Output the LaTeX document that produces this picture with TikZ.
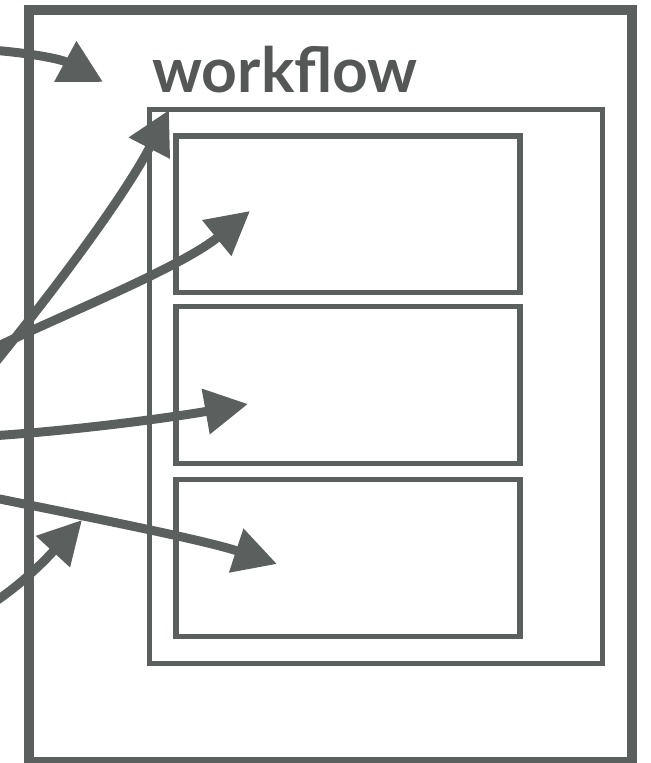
\documentclass[tikz,border=0pt]{standalone}
\usepackage{fontspec}
\setmainfont{Lato}
\usetikzlibrary{arrows.meta,positioning,calc}

\definecolor{ink}{RGB}{91,95,93}
\definecolor{inktext}{RGB}{85,86,86}

\begin{document}
\begin{tikzpicture}[
  x=0.02cm, y=-0.02cm,
  frame/.style={draw=ink, line width=0.2cm, minimum width=12.06cm, minimum height=15.04cm, inner sep=0pt},
  flowbox/.style={draw=ink, line width=0.1cm, minimum width=9.06cm, minimum height=11.09cm, inner sep=0pt},
  stepbox/.style={draw=ink, line width=0.11cm, minimum width=6.88cm, minimum height=3.14cm, inner sep=0pt},
  title/.style={text=inktext, font=\fontsize{35.5}{35.5}\selectfont\bfseries, inner sep=0pt, anchor=base west},
  arr/.style={draw=ink, line width=0.18cm, -{Triangle[length=0.86cm, width=0.88cm]}}
]
\useasboundingbox (0,0) rectangle (651,763);

\node[frame] (outer) at (330.5,386) {};
\node[flowbox] (flow) at (376,386.75) {};
\node[stepbox] (stepA) at (348,214.25) {};
\node[stepbox] (stepB) at (348,385) {};
\node[stepbox] (stepC) at (348,558) {};
\node[title] (label) at (152,93) {workflow};

% loose ends coming in from the left
\coordinate (srcA) at (-10,50);
\coordinate (srcB) at (-10,369);
\coordinate (srcC) at (-10,350);
\coordinate (srcD) at (-10,436);
\coordinate (srcE) at (-10,497);
\coordinate (srcF) at (-10,605);

% where the heads land
\coordinate (dstA) at (103,82);
\coordinate (dstB) at (169,110);
\coordinate (dstC) at (250,211);
\coordinate (dstD) at (248,404);
\coordinate (dstE) at (277,564);
\coordinate (dstF) at (82,520);

\draw[arr] (srcA) .. controls (20,52) and (59,58) .. (dstA);
\draw[arr] (srcB) .. controls (48,298) and (123,199) .. (dstB);
\draw[arr] (srcC) .. controls (62,315) and (180,268) .. (dstC);
\draw[arr] (srcD) .. controls (70,431) and (169,418) .. (dstD);
\draw[arr] (srcE) .. controls (68,513) and (201,539) .. (dstE);
\draw[arr] (srcF) .. controls (24,583) and (48,557) .. (dstF);

\end{tikzpicture}
\end{document}
